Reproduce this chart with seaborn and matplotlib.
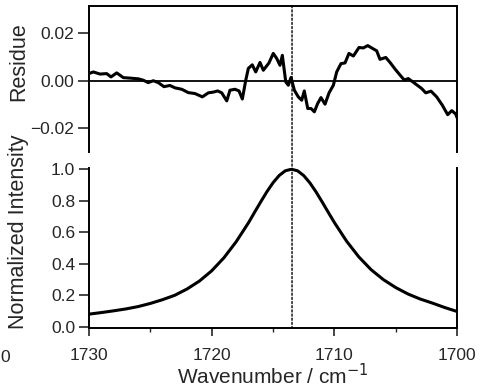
import numpy as np
import matplotlib
matplotlib.use("Agg")
import matplotlib.pyplot as plt
import seaborn as sns
from matplotlib.patches import ConnectionPatch
from matplotlib.ticker import FixedLocator

# residue trace
res_wn = [1730.00, 1729.65, 1729.10, 1728.56, 1728.21, 1727.74, 1727.20, 1726.66, 1725.98, 1725.57,
          1725.17, 1724.76, 1724.35, 1723.89, 1723.40, 1722.99, 1722.44, 1721.91, 1721.36, 1720.76,
          1720.27, 1719.87, 1719.51, 1719.18, 1718.77, 1718.51, 1718.10, 1717.77, 1717.50, 1717.23,
          1717.01, 1716.69, 1716.41, 1716.06, 1715.79, 1715.33, 1714.98, 1714.70, 1714.43, 1714.24,
          1713.96, 1713.75, 1713.53, 1713.26, 1712.94, 1712.66, 1712.45, 1712.17, 1711.90, 1711.63,
          1711.36, 1711.09, 1710.76, 1710.43, 1710.08, 1709.81, 1709.46, 1709.13, 1708.81, 1708.45,
          1707.99, 1707.64, 1707.28, 1706.82, 1706.55, 1706.28, 1705.81, 1705.46, 1705.05, 1704.65,
          1704.30, 1703.97, 1703.42, 1702.88, 1702.55, 1702.12, 1701.66, 1701.20, 1700.76, 1700.43,
          1700.11, 1700.00]
res_val = [0.0030, 0.0037, 0.0028, 0.0030, 0.0016, 0.0033, 0.0013, 0.0011, 0.0008, 0.0002,
           -0.0008, 0.0000, -0.0008, -0.0025, -0.0020, -0.0030, -0.0036, -0.0050, -0.0054, -0.0068,
           -0.0051, -0.0048, -0.0043, -0.0051, -0.0085, -0.0040, -0.0036, -0.0043, -0.0077, 0.0000,
           0.0052, 0.0067, 0.0037, 0.0077, 0.0044, 0.0075, 0.0115, 0.0094, 0.0065, 0.0107,
           -0.0005, -0.0019, 0.0014, -0.0040, -0.0068, -0.0082, -0.0043, -0.0117, -0.0117, -0.0131,
           -0.0096, -0.0071, -0.0099, -0.0051, -0.0019, 0.0037, 0.0072, 0.0075, 0.0115, 0.0104,
           0.0140, 0.0138, 0.0148, 0.0134, 0.0126, 0.0090, 0.0098, 0.0077, 0.0049, 0.0024,
           0.0003, 0.0009, -0.0012, -0.0033, -0.0051, -0.0044, -0.0068, -0.0103, -0.0143, -0.0126,
           -0.0140, -0.0155]

# normalized band
band_wn = [1730, 1729, 1728, 1727, 1726, 1725, 1724, 1723, 1722, 1721, 1720, 1719, 1718, 1717,
           1716.5, 1716, 1715.5, 1715, 1714.5, 1714, 1713.5, 1713, 1712.5, 1712, 1711.5, 1711,
           1710.5, 1710, 1709, 1708, 1707, 1706, 1705, 1704, 1703, 1702, 1701, 1700]
band_val = [0.080, 0.090, 0.101, 0.113, 0.128, 0.148, 0.172, 0.200, 0.240, 0.290, 0.355, 0.438,
            0.540, 0.660, 0.727, 0.793, 0.857, 0.914, 0.960, 0.990, 1.000, 0.990, 0.960, 0.914,
            0.857, 0.793, 0.727, 0.662, 0.543, 0.443, 0.362, 0.299, 0.249, 0.208, 0.176, 0.150,
            0.122, 0.097]

peak_wn = 1713.45
x_major = [1730, 1720, 1710, 1700]
x_minor = [1725, 1715, 1705]

sns.set_style("ticks")
plt.rcParams['font.family'] = ['Liberation Sans', 'DejaVu Sans']

fig = plt.figure(figsize=(4.89, 3.88), dpi=100)
ax1 = fig.add_axes([0.182, 0.609, 0.7526, 0.3763])
ax2 = fig.add_axes([0.182, 0.1534, 0.7526, 0.4137])

#residue panel
sns.lineplot(x=res_wn, y=res_val, ax=ax1, color='black', lw=2.2)
ax1.axhline(0, color='black', lw=1.3)
ax1.set_xlim(1730, 1700)
ax1.set_ylim(-0.0299, 0.0316)
ax1.set_yticks([-0.02, 0.00, 0.02])
ax1.set_yticklabels(['\u22120.02', '0.00', '0.02'])
ax1.tick_params(axis='x', bottom=False, labelbottom=False)
ax1.tick_params(axis='y', direction='out', length=8, width=1.2, labelsize=12.5, pad=3)
ax1.set_ylabel('Residue', fontsize=15.5)
ax1.spines['bottom'].set_visible(False)
for s in ['top', 'left', 'right']:
    ax1.spines[s].set_visible(True)
    ax1.spines[s].set_linewidth(1.4)
    ax1.spines[s].set_color('black')

#band panel
sns.lineplot(x=band_wn, y=band_val, ax=ax2, color='black', lw=2.2)
ax2.set_xlim(1730, 1700)
ax2.set_ylim(-0.011, 1.008)
ax2.set_yticks(np.arange(0, 1.01, 0.2))
ax2.set_yticklabels(['0.0', '0.2', '0.4', '0.6', '0.8', '1.0'])
ax2.xaxis.set_major_locator(FixedLocator(x_major))
ax2.xaxis.set_minor_locator(FixedLocator(x_minor))
ax2.set_xticklabels([str(v) for v in x_major])
ax2.tick_params(axis='x', which='major', direction='out', length=6, width=1.2, labelsize=12.5, pad=8)
ax2.tick_params(axis='x', which='minor', direction='out', length=3, width=1.0)
ax2.tick_params(axis='y', direction='out', length=7, width=1.2, labelsize=12.5, pad=3)
ax2.set_ylabel('Normalized Intensity', fontsize=15.5)
ax2.set_xlabel('Wavenumber / cm$^{-1}$', fontsize=15, labelpad=0)
ax2.spines['top'].set_visible(False)
for s in ['bottom', 'left', 'right']:
    ax2.spines[s].set_visible(True)
    ax2.spines[s].set_linewidth(1.4)
    ax2.spines[s].set_color('black')

ax1.yaxis.set_label_coords(-0.163, 0.62)
ax2.yaxis.set_label_coords(-0.163, 0.60)

# dotted marker at the band centre, through both panels
con = ConnectionPatch(xyA=(peak_wn, 0.0316), coordsA=ax1.transData,
                      xyB=(peak_wn, 0.0), coordsB=ax2.transData,
                      color='black', lw=1.0, linestyle=(0, (1.5, 1.5)))
fig.add_artist(con)

# clipped leftover tick label at the left edge
fig.text(0.0, 1 - 357 / 388, '0', fontsize=12.5, ha='left', va='center')

fig.savefig('out.png', dpi=100)
